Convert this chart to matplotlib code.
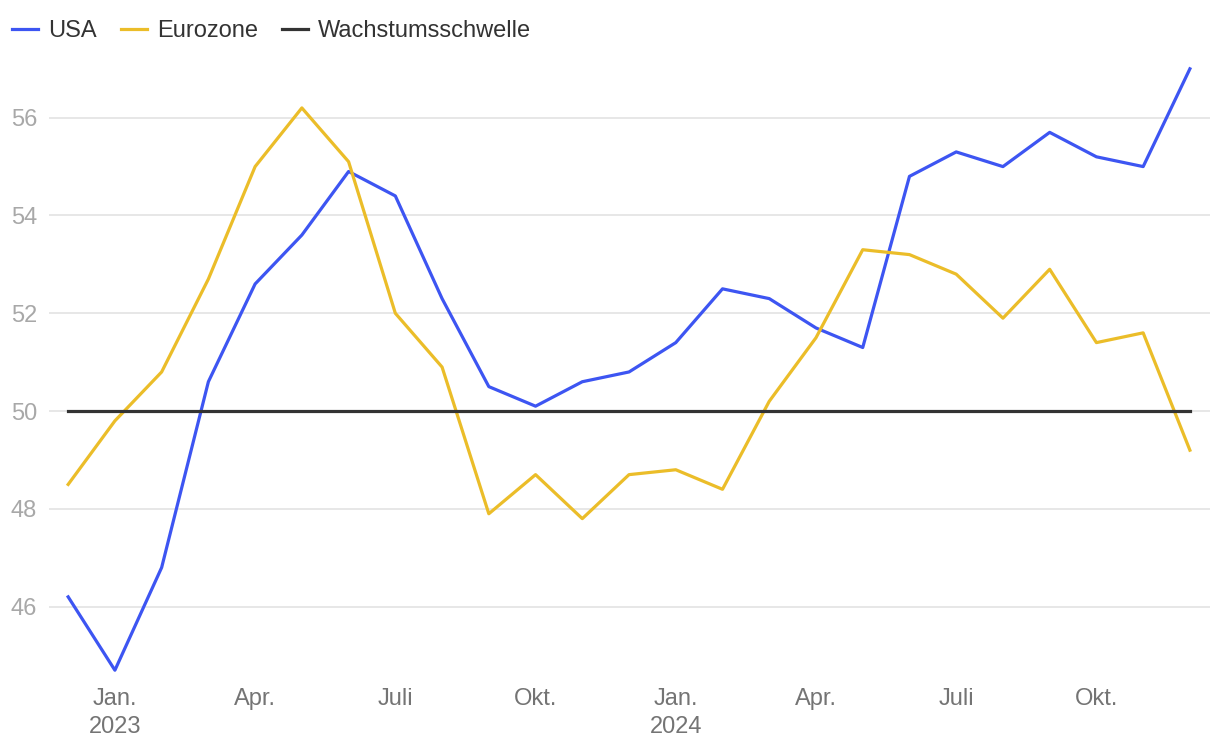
import numpy as np
import matplotlib
matplotlib.use('Agg')
import matplotlib.pyplot as plt

plt.rcParams['font.family'] = ['Liberation Sans', 'DejaVu Sans']

# Dez. 2022 .. Dez. 2024, monthly PMI values
months = ['2022-12', '2023-01', '2023-02', '2023-03', '2023-04', '2023-05', '2023-06',
          '2023-07', '2023-08', '2023-09', '2023-10', '2023-11', '2023-12',
          '2024-01', '2024-02', '2024-03', '2024-04', '2024-05', '2024-06',
          '2024-07', '2024-08', '2024-09', '2024-10', '2024-11', '2024-12']
usa = [46.2, 44.7, 46.8, 50.6, 52.6, 53.6, 54.9, 54.4, 52.3, 50.5, 50.1, 50.6, 50.8,
       51.4, 52.5, 52.3, 51.7, 51.3, 54.8, 55.3, 55.0, 55.7, 55.2, 55.0, 57.0]
eurozone = [48.5, 49.8, 50.8, 52.7, 55.0, 56.2, 55.1, 52.0, 50.9, 47.9, 48.7, 47.8, 48.7,
            48.8, 48.4, 50.2, 51.5, 53.3, 53.2, 52.8, 51.9, 52.9, 51.4, 51.6, 49.2]
schwelle = [50.0] * len(months)

tick_months = ['2023-01', '2023-04', '2023-07', '2023-10',
               '2024-01', '2024-04', '2024-07', '2024-10']
tick_labels = ['Jan.\n2023', 'Apr.', 'Juli', 'Okt.', 'Jan.\n2024', 'Apr.', 'Juli', 'Okt.']
y_ticks = [46, 48, 50, 52, 54, 56]

FS = 17


def main():
    fig = plt.figure(figsize=(12.2, 7.46), dpi=100)
    ax = fig.add_axes([49 / 1220, 1 - 680 / 746, (1210 - 49) / 1220, (680 - 60) / 746])

    x = np.arange(len(months))
    l1, = ax.plot(x, usa, color='#3d55f2', lw=2.3, label='USA', solid_joinstyle='round')
    l2, = ax.plot(x, eurozone, color='#ebbd29', lw=2.3, label='Eurozone', solid_joinstyle='round')
    l3, = ax.plot(x, schwelle, color='#333333', lw=2.3, label='Wachstumsschwelle')

    ax.set_xlim(-0.41, len(months) - 1 + 0.43)
    ax.set_ylim(44.5, 57.18)

    ax.set_yticks(y_ticks)
    ax.set_yticklabels([str(v) for v in y_ticks])
    ax.set_xticks([months.index(m) for m in tick_months])
    ax.set_xticklabels(tick_labels, linespacing=1.35)
    ax.grid(axis='y', color='#e3e3e3', lw=1.2)
    ax.set_axisbelow(True)
    for s in ax.spines.values():
        s.set_visible(False)
    ax.tick_params(axis='y', length=0, pad=8.5, labelsize=FS, labelcolor='#a8a8a8')
    ax.tick_params(axis='x', length=0, pad=5.5, labelsize=FS, labelcolor='#747474')

    fig.legend(handles=[l1, l2, l3], loc='upper left', bbox_to_anchor=(12 / 1220, 1 - 20 / 746),
               ncol=3, frameon=False, fontsize=FS, handlelength=1.12, borderpad=0,
               borderaxespad=0, handletextpad=0.42, columnspacing=1.0, labelcolor='#333333')

    fig.savefig('out.png', dpi=100)


if __name__ == '__main__':
    main()
